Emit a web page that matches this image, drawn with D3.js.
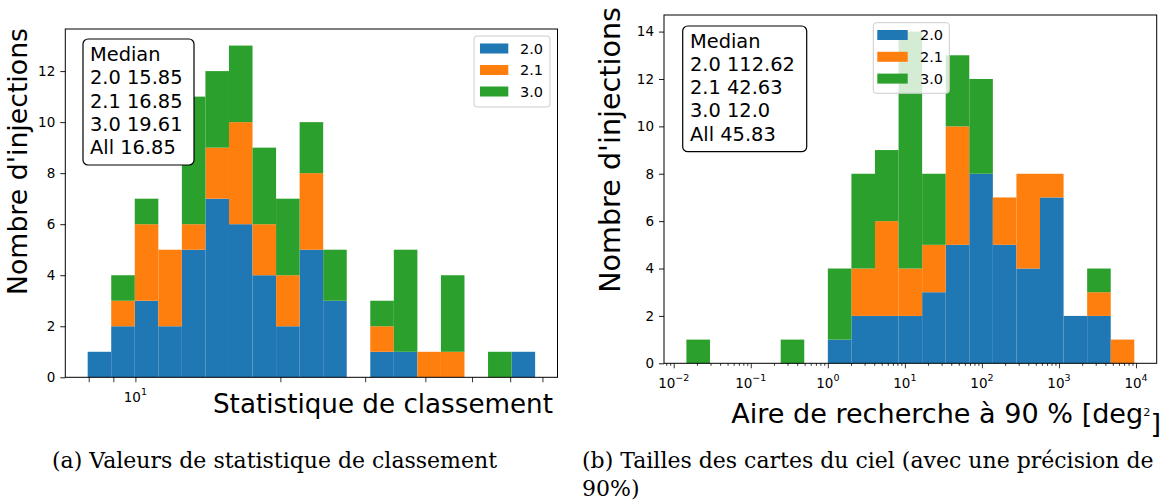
<!DOCTYPE html>
<html>
<head>
<meta charset="utf-8">
<script src="https://cdn.jsdelivr.net/npm/d3@7"></script>
<style>
  body { margin: 0; background: #fff; }
  svg { display: block; }
  text { font-family: "DejaVu Sans", sans-serif; fill: #000; }
</style>
</head>
<body>
<div id="chart-area"></div>
<script>
const versions = ["2.0", "2.1", "3.0"];
const colors = ["#1f77b4", "#ff7f0e", "#2ca02c"];

// (a) ranking statistic: 19 log-spaced bins between these limits
const rankRange = [7.96, 67.6];
const rank20 = [1, 2, 3, 2, 5, 7, 6, 4, 2, 5, 3, 0, 1, 1, 0, 0, 0, 0, 1];
const rank21 = [0, 1, 3, 3, 1, 2, 4, 2, 2, 3, 0, 0, 1, 0, 1, 1, 0, 0, 0];
const rank30 = [0, 1, 1, 0, 5, 3, 3, 3, 3, 2, 2, 0, 1, 4, 0, 3, 0, 1, 0];
const rankMedian = ["Median", "2.0 15.85", "2.1 16.85", "3.0 19.61", "All 16.85"];
const rankTicks = [8, 9, 10, 20, 30, 40, 50, 60, 70];
const rankTickLabels = [[10, "1"]];

// (b) 90% search area: 19 log-spaced bins
const areaRange = [0.0146, 9500];
const area20 = [0, 0, 0, 0, 0, 0, 1, 2, 2, 2, 3, 5, 8, 5, 4, 7, 2, 2, 0];
const area21 = [0, 0, 0, 0, 0, 0, 0, 2, 4, 2, 2, 5, 0, 2, 4, 1, 0, 1, 1];
const area30 = [1, 0, 0, 0, 1, 0, 3, 4, 3, 10, 3, 3, 4, 0, 0, 0, 0, 1, 0];
const areaMedian = ["Median", "2.0 112.62", "2.1 42.63", "3.0 12.0", "All 45.83"];
const areaTickLabels = [[0.01, "\u22122"], [0.1, "\u22121"], [1, "0"], [10, "1"], [100, "2"], [1000, "3"], [10000, "4"]];

const yLabel = "Nombre d'injections";

const svg = d3.select("#chart-area")
  .append("svg")
    .attr("width", 1163)
    .attr("height", 502);

const panels = [
  {
    counts: [rank20, rank21, rank30], range: rankRange, median: rankMedian,
    major: rankTickLabels, minor: rankTicks,
    left: 65.3, right: 557.5, top: 29, bottom: 377.3,
    box: { x: 83, y: 39, w: 111, h: 126, tx: 90, base: 61, step: 23.3 },
    legend: { x: 474, y: 36, w: 76, h: 71, px: 480, pw: 28.3, rows: [48.5, 70, 91.5], lx: 520 },
    xlabel: { text: "Statistique de classement", x: 553, y: 413, size: 26, anchor: "end", fit: 340 },
    ylabel: { x: 27, y: 28, size: 26, fit: 267 },
    yTickMax: 12
  },
  {
    counts: [area20, area21, area30], range: areaRange, median: areaMedian,
    major: areaTickLabels, minor: null,
    left: 664, right: 1156.7, top: 15, bottom: 363.3,
    box: { x: 682.7, y: 26, w: 124, h: 125.7, tx: 690, base: 47.7, step: 23.2 },
    legend: { x: 873.3, y: 22.7, w: 76, h: 70.6, px: 877.3, pw: 30.4, rows: [35, 56.8, 78.6], lx: 920 },
    xlabel: { text: "Aire de recherche à 90 % [deg", sup: "2", tail: "]", x: 1161, y: 423, size: 27, anchor: "end", fit: 430 },
    ylabel: { x: 620, y: 7, size: 28, fit: 286 },
    yTickMax: 14
  }
];

panels.forEach(drawPanel);

// scale a label's font so that it covers the width
function fit(sel, size, target) {
  const len = sel.node().getComputedTextLength();
  if (len > 0) sel.attr("font-size", (size * target / len).toFixed(2) + "px");
}

function drawPanel(p) {
  const g = svg.append("g");
  const n = p.counts[0].length;
  const edges = d3.range(n + 1).map(i => p.range[0] * Math.pow(p.range[1] / p.range[0], i / n));
  const lo = Math.log10(edges[0]);
  const hi = Math.log10(edges[n]);
  const pad = (hi - lo) * 0.05;

  const x = d3.scaleLog()
    .domain([Math.pow(10, lo - pad), Math.pow(10, hi + pad)])
    .range([p.left, p.right]);

  const table = d3.range(n).map(i => {
    const row = { x0: edges[i], x1: edges[i + 1] };
    versions.forEach((v, k) => { row[v] = p.counts[k][i]; });
    return row;
  });
  const total = d3.max(table, d => d3.sum(versions, v => d[v]));

  const y = d3.scaleLinear()
    .domain([0, total * 1.05])
    .range([p.bottom, p.top]);

  const series = d3.stack().keys(versions)(table);

  g.selectAll("g.layer")
    .data(series)
    .enter().append("g")
      .attr("class", "layer")
      .attr("fill", (d, i) => colors[i])
    .selectAll("rect")
    .data(d => d.filter(s => s[1] > s[0]))
    .enter().append("rect")
      .attr("x", d => x(d.data.x0))
      .attr("width", d => x(d.data.x1) - x(d.data.x0))
      .attr("y", d => y(d[1]))
      .attr("height", d => y(d[0]) - y(d[1]));

  // y axis
  const yAxis = g.append("g")
    .attr("transform", `translate(${p.left}, 0)`)
    .call(d3.axisLeft(y)
      .tickValues(d3.range(0, p.yTickMax + 1, 2))
      .tickSize(5)
      .tickPadding(5));
  yAxis.select(".domain").remove();
  yAxis.selectAll("text")
    .attr("font-family", "DejaVu Sans")
    .attr("font-size", "13.5px")
    .attr("fill", "#000");
  yAxis.selectAll("line").attr("stroke", "#000").attr("stroke-width", 0.9);

  // x axis ticks
  let minor = p.minor;
  if (!minor) {
    minor = [];
    for (let e = -3; e <= 4; e++) {
      for (let m = 1; m <= 9; m++) {
        const v = m * Math.pow(10, e);
        if (v >= x.domain()[0] && v <= x.domain()[1]) minor.push(v);
      }
    }
  }
  const majorVals = p.major.map(d => d[0]);
  const xAxis = g.append("g")
    .attr("transform", `translate(0, ${p.bottom})`)
    .call(d3.axisBottom(x)
      .tickValues(minor)
      .tickFormat(() => "")
      .tickSize(3));
  xAxis.select(".domain").remove();
  xAxis.selectAll("line")
    .attr("stroke", "#000")
    .attr("stroke-width", 0.8)
    .attr("y2", d => (p.minor || majorVals.includes(d)) ? 5 : 2.5);

  const xl = g.append("g")
    .selectAll("text")
    .data(p.major)
    .enter().append("text")
      .attr("x", d => x(d[0]))
      .attr("y", p.bottom + 24.5)
      .attr("text-anchor", "middle")
      .attr("font-size", "13.5px");
  xl.append("tspan").text("10");
  xl.append("tspan")
    .attr("dy", -6.5)
    .attr("font-size", "9.5px")
    .text(d => d[1]);

  // frame
  g.append("rect")
    .attr("x", p.left)
    .attr("y", p.top)
    .attr("width", p.right - p.left)
    .attr("height", p.bottom - p.top)
    .attr("fill", "none")
    .attr("stroke", "#000")
    .attr("stroke-width", 1);

  // median box
  const b = p.box;
  g.append("rect")
    .attr("x", b.x).attr("y", b.y)
    .attr("width", b.w).attr("height", b.h)
    .attr("rx", 5)
    .attr("fill", "#fff")
    .attr("stroke", "#000")
    .attr("stroke-width", 1.2);
  g.selectAll("text.median")
    .data(p.median)
    .enter().append("text")
      .attr("class", "median")
      .attr("x", b.tx)
      .attr("y", (d, i) => b.base + i * b.step)
      .attr("font-size", "19.4px")
      .text(d => d);

  // legend
  const L = p.legend;
  g.append("rect")
    .attr("x", L.x).attr("y", L.y)
    .attr("width", L.w).attr("height", L.h)
    .attr("rx", 3)
    .attr("fill", "#fff")
    .attr("fill-opacity", 0.8)
    .attr("stroke", "#ccc")
    .attr("stroke-width", 1);
  const items = g.selectAll("g.item")
    .data(versions)
    .enter().append("g")
      .attr("class", "item");
  items.append("rect")
    .attr("x", L.px)
    .attr("y", (d, i) => L.rows[i] - 5)
    .attr("width", L.pw)
    .attr("height", 10)
    .attr("fill", (d, i) => colors[i]);
  items.append("text")
    .attr("x", L.lx)
    .attr("y", (d, i) => L.rows[i] + 5.2)
    .attr("font-size", "14.5px")
    .attr("fill", "#222")
    .text(d => d);

  // axis labels
  const xt = g.append("text")
    .attr("x", p.xlabel.x)
    .attr("y", p.xlabel.y)
    .attr("text-anchor", p.xlabel.anchor)
    .attr("font-size", p.xlabel.size + "px");
  xt.append("tspan").text(p.xlabel.text);
  if (p.xlabel.sup) {
    xt.append("tspan").attr("dy", "-0.62em").attr("font-size", "0.42em").text(p.xlabel.sup);
    xt.append("tspan").attr("dy", "0.62em").text(p.xlabel.tail);
  }
  fit(xt, p.xlabel.size, p.xlabel.fit);

  const yt = g.append("text")
    .attr("transform", `translate(${p.ylabel.x}, ${p.ylabel.y}) rotate(-90)`)
    .attr("text-anchor", "end")
    .attr("font-size", p.ylabel.size + "px")
    .text(yLabel);
  fit(yt, p.ylabel.size, p.ylabel.fit);
}

// sub-figure captions
const caps = [
  { text: "(a) Valeurs de statistique de classement", x: 52, y: 468 },
  { text: "(b) Tailles des cartes du ciel (avec une précision de", x: 582, y: 468 },
  { text: "90%)", x: 582, y: 496 }
];
svg.selectAll("text.caption")
  .data(caps)
  .enter().append("text")
    .attr("class", "caption")
    .attr("x", d => d.x)
    .attr("y", d => d.y)
    .style("font-family", "'DejaVu Serif', serif")
    .attr("font-size", "22px")
    .attr("fill", "#222")
    .text(d => d.text);
</script>
</body>
</html>
